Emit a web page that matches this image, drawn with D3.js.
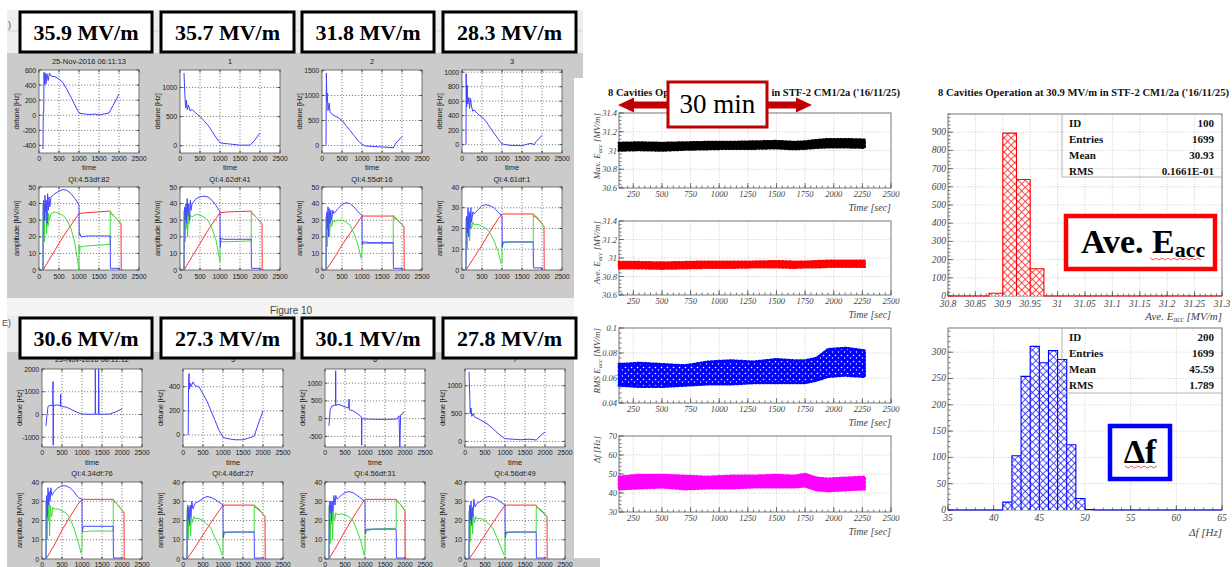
<!DOCTYPE html>
<html>
<head>
<meta charset="utf-8">
<script src="https://cdn.jsdelivr.net/npm/d3@7"></script>
<style>
  body { margin: 0; background: #fff; }
  svg { display: block; }
</style>
</head>
<body>
<svg id="chart" width="1232" height="567"></svg>
<script>
// ---------- data: MATLAB LLRF panels (8 cavities) ----------
const cavityLabels = ['35.9 MV/m', '35.7 MV/m', '31.8 MV/m', '28.3 MV/m', '30.6 MV/m', '27.3 MV/m', '30.1 MV/m', '27.8 MV/m'];
const detuneTitles = ['25-Nov-2016 06:11:13', '1', '2', '3', '25-Nov-2016 06:11:12', '5', '6', '7'];
const ampTitles = ['QI:4.53df:82', 'QI:4.62df:41', 'QI:4.55df:16', 'QI:4.61df:1', 'QI:4.34df:76', 'QI:4.46df:27', 'QI:4.56df:31', 'QI:4.56df:49'];
const timeTicks = [0, 500, 1000, 1500, 2000, 2500];
const detuneDomains = [[-500, 600], [-125, 1300], [-150, 1510], [-115, 1030], [-1430, 2000], [-100, 547], [-800, 1400], [-100, 1300]];
const detuneTicks = [
  [-400, -200, 0, 200, 400, 600], [0, 500, 1000], [0, 500, 1000, 1500], [0, 200, 400, 600, 800, 1000],
  [-1000, 0, 1000, 2000], [0, 200, 400], [-500, 0, 500, 1000], [0, 500, 1000]
];
const ampMax = [50, 50, 50, 40, 40, 40, 40, 40];

const detuneCurves = [
  [[100,-450],[105,-100],[110,50],[118,40],[125,570],[140,400],[160,560],[175,420],[200,550],[230,460],[260,560],[300,520],[400,510],[500,480],[600,430],[700,340],[800,240],[900,130],[1000,30],[1100,20],[1250,10],[1400,15],[1500,5],[1650,20],[1750,30],[1850,130],[2000,280]],
  [[100,1250],[120,900],[140,650],[160,780],[180,620],[210,700],[250,600],[300,620],[400,560],[500,500],[600,430],[700,350],[800,250],[900,140],[1000,50],[1100,40],[1300,25],[1500,10],[1750,10],[1850,80],[2000,220]],
  [[100,0],[110,1450],[120,900],[130,1050],[150,700],[180,850],[200,680],[250,620],[300,600],[400,560],[500,500],[600,400],[700,300],[800,200],[900,100],[1000,20],[1100,-10],[1300,-20],[1500,-30],[1750,-40],[1780,-50],[1850,50],[2000,180]],
  [[100,0],[105,980],[115,520],[130,820],[145,560],[170,650],[190,500],[210,640],[240,520],[270,460],[300,480],[400,420],[500,380],[600,320],[700,240],[800,160],[900,80],[1000,10],[1200,-10],[1500,-15],[1650,10],[1750,20],[1800,-5],[1850,40],[2000,130]],
  [[100,-500],[120,-100],[150,350],[200,400],[270,400],[275,1450],[280,-1350],[285,400],[400,420],[460,380],[467,900],[472,350],[600,330],[700,250],[800,160],[900,80],[1000,20],[1200,10],[1330,10],[1333,2000],[1340,10],[1410,10],[1417,2000],[1425,10],[1700,20],[1850,120],[2000,250]],
  [[130,0],[140,450],[150,510],[160,380],[180,430],[200,400],[250,440],[300,410],[400,400],[500,340],[600,280],[700,200],[800,120],[900,40],[1000,-20],[1100,-30],[1300,-40],[1500,-40],[1700,-20],[1780,-10],[1850,60],[2000,200]],
  [[100,-200],[130,250],[170,350],[250,380],[265,380],[267,1350],[270,380],[350,400],[500,330],[590,300],[600,550],[610,250],[700,220],[800,150],[900,60],[915,0],[917,-750],[920,0],[1000,-10],[1300,-20],[1600,-20],[1800,-10],[1850,80],[1870,-800],[1890,100],[1950,150],[1970,200]],
  [[100,1250],[120,800],[130,500],[150,600],[170,450],[200,500],[250,430],[300,420],[400,380],[500,340],[600,290],[700,230],[800,160],[900,100],[1000,50],[1200,40],[1400,30],[1600,40],[1750,30],[1780,20],[1850,80],[2000,170]]
];

const blueCurves = [
  [[0,0],[100,0],[105,38],[120,42],[135,30],[150,45],[165,35],[180,42],[200,28],[215,46],[235,36],[250,44],[270,38],[300,44],[400,46],[500,47.5],[600,48.5],[700,48],[800,46],[900,43],[980,40],[1000,39],[1005,21],[1020,22],[1050,20],[1200,20.5],[1780,20.5],[1785,1],[2000,1],[2010,0]],
  [[0,0],[100,0],[105,34],[120,38],[135,30],[150,40],[165,28],[180,43],[200,33],[220,40],[240,30],[260,42],[280,36],[300,40],[400,43],[500,44],[600,44.5],[700,44],[800,42],[900,39],[1000,35],[1003,20],[1010,14],[1020,19],[1100,18.5],[1780,18.5],[1785,1],[2000,1],[2010,0]],
  [[0,0],[100,0],[105,30],[120,35],[135,25],[150,38],[165,20],[180,37],[200,28],[220,36],[240,30],[270,36],[300,34],[400,37],[500,39.5],[600,40.5],[700,40],[800,38],[900,35],[1000,33],[1003,18],[1010,15],[1030,17],[1200,16.5],[1780,16.5],[1785,1],[2000,1],[2010,0]],
  [[0,0],[100,0],[105,22],[120,26],[135,18],[150,30],[165,16],[180,28],[200,20],[220,30],[240,23],[270,28],[300,27],[400,29],[500,31],[600,31.5],[700,31],[800,30],[900,28],[1000,26],[1003,14],[1010,11],[1030,13.5],[1200,13.5],[1780,13.5],[1785,1],[2000,1],[2010,0]],
  [[0,0],[100,0],[105,28],[120,33],[135,22],[150,37],[165,28],[180,35],[200,30],[220,37],[250,33],[300,35],[400,37],[500,38],[600,38],[700,37],[800,35],[900,32],[1000,31],[1003,17],[1010,14],[1030,17],[1200,17],[1780,17],[1785,0.5],[2000,0.5]],
  [[0,0],[100,0],[105,22],[120,28],[135,20],[150,27],[165,18],[180,28],[200,22],[220,30],[250,26],[300,29],[400,30],[500,31.5],[600,32.5],[700,32],[800,31],[900,29.5],[1000,28],[1003,14],[1010,11],[1030,14],[1200,14],[1780,14],[1785,0.5],[2000,0.5]],
  [[0,0],[100,0],[105,26],[120,30],[135,24],[150,30],[165,20],[180,30],[200,25],[220,33],[250,28],[270,33],[300,31],[400,33],[500,34.5],[600,35],[700,34.5],[800,33],[900,31.5],[1000,30],[1003,16],[1010,13],[1030,15.5],[1200,15.5],[1780,15.5],[1785,0.5],[2000,0.5]],
  [[0,0],[100,0],[105,22],[120,28],[135,20],[150,30],[165,18],[180,27],[200,22],[220,31],[250,27],[300,29],[400,30],[500,32],[600,32.5],[700,32],[800,31],[900,29.5],[1000,28],[1003,14],[1010,11],[1030,14],[1200,14],[1780,14],[1785,0.5],[2000,0.5]]
];

const greenCurves = [
  [[0,0],[100,0],[105,40],[120,35],[135,17],[145,38],[160,30],[175,40],[190,22],[210,35],[225,26],[240,34],[260,30],[300,34],[400,35],[500,34],[600,33],[700,30],[800,25],[880,18],[950,8],[990,2],[1000,0],[1002,15],[1015,10],[1030,14],[1200,14.5],[1500,15],[1780,15.5],[1782,35],[1900,32],[2050,28]],
  [[0,0],[100,0],[105,36],[120,30],[130,17],[145,37],[160,25],[175,38],[190,20],[210,34],[230,28],[260,33],[300,32],[400,33.5],[500,33],[600,32],[700,30],[800,25],[900,18],[960,10],[1000,5],[1003,20],[1020,17],[1100,17],[1780,17.5],[1782,35],[1900,32],[2050,28]],
  [[0,0],[100,0],[105,32],[120,28],[130,14],[145,34],[160,22],[175,33],[190,20],[210,31],[240,26],[270,30],[300,29],[400,30],[500,30],[600,29],[700,27],[800,22],[900,15],[980,7],[1000,10],[1003,17],[1020,16],[1200,16],[1780,16],[1782,33],[1900,30],[2050,26]],
  [[0,0],[100,0],[105,25],[120,22],[130,10],[145,26],[160,18],[175,25],[190,14],[210,24],[240,20],[270,23],[300,22],[400,22],[500,21],[600,20],[700,18],[800,14],[900,9],[980,3],[1000,4],[1003,14],[1020,13],[1200,13.5],[1780,13.5],[1782,27],[1900,25],[2050,21]],
  [[0,0],[100,0],[105,30],[120,25],[130,10],[145,31],[160,20],[175,30],[190,12],[210,28],[240,22],[270,27],[300,26],[400,26],[500,25],[600,24],[700,21],[800,16],[900,9],[980,3],[1000,6],[1003,15],[1020,14],[1200,14.5],[1780,14.5],[1782,31],[1900,28],[2050,24]],
  [[0,0],[100,0],[105,26],[120,20],[130,10],[145,25],[160,17],[175,24],[190,12],[210,22],[240,19],[270,22],[300,21],[400,21],[500,20],[600,18],[700,16],[800,11],[900,7],[980,2],[1000,3],[1003,14],[1020,13.5],[1200,14],[1780,14],[1782,28],[1900,26],[2050,22]],
  [[0,0],[100,0],[105,28],[120,22],[130,8],[145,28],[160,18],[175,27],[190,10],[210,25],[240,20],[270,24],[300,23],[400,23.5],[500,23],[600,22],[700,20],[800,15],[900,9],[980,2],[1000,4],[1003,15],[1020,14.5],[1200,15.5],[1780,16],[1782,31],[1900,28],[2000,25]],
  [[0,0],[100,0],[105,25],[120,20],[130,9],[145,26],[160,17],[175,25],[190,13],[210,23],[240,19],[270,22],[300,21],[400,21],[500,20],[600,18],[700,16],[800,11],[900,6],[980,2],[1000,3],[1003,14],[1020,13.5],[1200,14],[1780,14],[1782,27],[1900,25],[2050,22]]
];

const redCurves = [
  [[0,0],[100,0],[200,4],[400,12],[600,20],[800,27],[1000,34],[1200,34.5],[1500,35],[1780,35.5],[1800,34],[1900,32],[2050,28],[2055,0],[2100,0]],
  [[0,0],[100,0],[300,8],[500,16],[700,24],[900,31],[1000,34.5],[1200,35],[1780,35.5],[1800,34],[1900,32],[2050,28],[2055,0],[2100,0]],
  [[0,0],[100,0],[300,7],[500,15],[700,22],[900,29],[1000,32.5],[1200,32.5],[1780,32.5],[1800,31.5],[1900,30],[2050,26],[2055,0],[2100,0]],
  [[0,0],[100,0],[300,6],[500,12],[700,18.5],[900,24.5],[1000,27],[1200,27],[1780,27],[1800,26],[1900,24.5],[2050,21],[2055,0],[2100,0]],
  [[0,0],[100,0],[300,7],[500,15],[700,22],[900,28.5],[1000,31],[1200,31],[1780,31],[1800,30],[1900,28],[2050,24],[2055,0],[2100,0]],
  [[0,0],[100,0],[300,6],[500,12.5],[700,19],[900,25],[1000,28],[1200,28],[1780,28],[1800,27],[1900,25.5],[2050,22],[2055,0],[2100,0]],
  [[0,0],[100,0],[300,7],[500,14.5],[700,21.5],[900,28],[1000,31],[1200,31],[1780,31],[1800,30],[1900,28],[2000,25],[2005,0],[2100,0]],
  [[0,0],[100,0],[300,6],[500,12.5],[700,19],[900,25],[1000,28],[1200,28],[1780,28],[1800,27],[1900,25.5],[2050,22],[2055,0],[2100,0]]
];

// ---------- data: ROOT strip charts (band envelopes) ----------
const stripTimes = [125, 300, 500, 700, 900, 1100, 1300, 1500, 1650, 1750, 1850, 1950, 2100, 2270];
const maxEaccLow  = [31.00, 31.005, 31.0, 31.01, 31.015, 31.02, 31.02, 31.025, 31.015, 31.02, 31.03, 31.035, 31.035, 31.03];
const maxEaccHigh = [31.08, 31.085, 31.08, 31.085, 31.09, 31.09, 31.095, 31.1, 31.09, 31.095, 31.11, 31.12, 31.12, 31.115];
const aveEaccLow  = [30.89, 30.89, 30.885, 30.89, 30.895, 30.895, 30.9, 30.9, 30.895, 30.9, 30.9, 30.905, 30.905, 30.905];
const aveEaccHigh = [30.955, 30.955, 30.95, 30.955, 30.96, 30.96, 30.96, 30.965, 30.96, 30.96, 30.965, 30.97, 30.97, 30.97];
const rmsEaccLow  = [0.054, 0.053, 0.053, 0.054, 0.055, 0.055, 0.056, 0.056, 0.056, 0.056, 0.058, 0.061, 0.062, 0.061];
const rmsEaccHigh = [0.071, 0.072, 0.071, 0.070, 0.073, 0.074, 0.073, 0.075, 0.074, 0.074, 0.076, 0.083, 0.084, 0.082];
const detuneLow   = [42, 42.5, 43, 42, 42.5, 42.5, 43, 43, 43, 43.5, 41.5, 41, 41.5, 42];
const detuneHigh  = [48.5, 49.5, 49.5, 49, 48.5, 49, 49, 49.5, 49, 50, 48, 47.5, 48, 48.5];
const stripTimeTicks = [250, 500, 750, 1000, 1250, 1500, 1750, 2000, 2250, 2500];

// ---------- data: histograms ----------
const eaccBinStarts = [30.875, 30.9, 30.925, 30.95];
const eaccCounts = [15, 895, 640, 150];
const eaccTicks = [30.8, 30.85, 30.9, 30.95, 31, 31.05, 31.1, 31.15, 31.2, 31.25, 31.3];
const eaccCountTicks = [0, 100, 200, 300, 400, 500, 600, 700, 800, 900];
const dfBinStarts = [41, 42, 43, 44, 45, 46, 47, 48, 49, 50];
const dfCounts = [15, 103, 254, 311, 280, 303, 286, 124, 22, 1];
const dfTicks = [35, 40, 45, 50, 55, 60, 65];
const dfCountTicks = [0, 50, 100, 150, 200, 250, 300];
const eaccStats = [['ID', '100'], ['Entries', '1699'], ['Mean', '30.93'], ['RMS', '0.1661E-01']];
const dfStats = [['ID', '200'], ['Entries', '1699'], ['Mean', '45.59'], ['RMS', '1.789']];

// ---------- drawing ----------
const SERIF = '"Liberation Serif", "Times New Roman", serif';
const SANS = '"Liberation Sans", Arial, sans-serif';
const GRAY = '#cbcbcb';

const svg = d3.select('#chart');
const defs = svg.append('defs');

// MATLAB windows background
svg.append('rect').attr('x', 7).attr('y', 10).attr('width', 576).attr('height', 43).attr('fill', '#eeeeee');
svg.append('line').attr('x1', 7).attr('x2', 583).attr('y1', 31).attr('y2', 31).attr('stroke', '#d6d6d6');
svg.append('rect').attr('x', 7).attr('y', 53).attr('width', 576).attr('height', 245).attr('fill', GRAY);
svg.append('rect').attr('x', 7).attr('y', 298).attr('width', 576).attr('height', 18).attr('fill', '#f3f3f3');
svg.append('rect').attr('x', 7).attr('y', 316).attr('width', 576).attr('height', 36).attr('fill', '#ececec');
svg.append('rect').attr('x', 7).attr('y', 352).attr('width', 576).attr('height', 215).attr('fill', GRAY);
svg.append('text').attr('x', 291).attr('y', 314).attr('text-anchor', 'middle')
  .attr('font-family', SANS).attr('font-size', 10).attr('fill', '#444').text('Figure 10');
svg.append('text').attr('x', 8).attr('y', 28).attr('font-family', SANS).attr('font-size', 9).attr('fill', '#555').text(')');
svg.append('text').attr('x', 2).attr('y', 326).attr('font-family', SANS).attr('font-size', 9).attr('fill', '#555').text('E)');
// ROOT canvas
svg.append('rect').attr('x', 574).attr('y', 78).attr('width', 40).attr('height', 480).attr('fill', '#fff');
svg.append('rect').attr('x', 574).attr('y', 558).attr('width', 26).attr('height', 9).attr('fill', GRAY);

// ---- MATLAB panels ----
const panelX = [[39, 139], [180, 280], [322, 422], [462, 562], [42, 142], [183, 283], [325, 425], [465, 565]];
const rows = [
  { det: [70, 153], amp: [187, 270], detTitle: 64, detTick: 161, timeLab: 170, ampTitle: 182, ampTick: 279 },
  { det: [369, 447], amp: [482, 559], detTitle: 362, detTick: 455, timeLab: 465, ampTitle: 476, ampTick: 567 }
];

function matlabAxes(g, id, x, y, yTicks, top, bot, tickY, yLabel) {
  const [x0, x1] = x.range();
  g.append('rect').attr('x', x0).attr('y', top).attr('width', x1 - x0).attr('height', bot - top).attr('fill', '#fff');
  defs.append('clipPath').attr('id', id).append('rect')
    .attr('x', x0).attr('y', top).attr('width', x1 - x0).attr('height', bot - top);
  const grid = g.append('g').attr('stroke', '#333').attr('stroke-width', 0.6).attr('stroke-dasharray', '1.2,1.8');
  timeTicks.slice(1, -1).forEach(t => grid.append('line').attr('x1', x(t)).attr('x2', x(t)).attr('y1', top).attr('y2', bot));
  yTicks.forEach(v => { if (y(v) > top + 1 && y(v) < bot - 1) grid.append('line').attr('x1', x0).attr('x2', x1).attr('y1', y(v)).attr('y2', y(v)); });
  const tk = g.append('g').attr('stroke', '#000').attr('stroke-width', 0.7);
  timeTicks.forEach(t => {
    tk.append('line').attr('x1', x(t)).attr('x2', x(t)).attr('y1', bot).attr('y2', bot - 2.5);
    tk.append('line').attr('x1', x(t)).attr('x2', x(t)).attr('y1', top).attr('y2', top + 2.5);
  });
  yTicks.forEach(v => {
    tk.append('line').attr('x1', x0).attr('x2', x0 + 2.5).attr('y1', y(v)).attr('y2', y(v));
    tk.append('line').attr('x1', x1).attr('x2', x1 - 2.5).attr('y1', y(v)).attr('y2', y(v));
  });
  g.append('rect').attr('x', x0).attr('y', top).attr('width', x1 - x0).attr('height', bot - top)
    .attr('fill', 'none').attr('stroke', '#555').attr('stroke-width', 0.8);
  const lab = g.append('g').attr('font-family', SANS).attr('font-size', 7).attr('fill', '#222')
    .attr('letter-spacing', -0.2);
  timeTicks.forEach(t => lab.append('text').attr('x', x(t)).attr('y', tickY).attr('text-anchor', 'middle').text(t));
  yTicks.forEach(v => lab.append('text').attr('x', x0 - 3).attr('y', y(v) + 2.5).attr('text-anchor', 'end').text(v));
  lab.append('text').attr('transform', `translate(${x0 - 20},${(top + bot) / 2}) rotate(-90)`)
    .attr('text-anchor', 'middle').attr('font-size', 7.5).text(yLabel);
}

function drawSeries(g, id, x, y, data, color) {
  g.append('path')
    .attr('d', d3.line().x(d => x(d[0])).y(d => y(d[1]))(data))
    .attr('fill', 'none').attr('stroke', color).attr('stroke-width', 1)
    .attr('stroke-linejoin', 'round').attr('clip-path', `url(#${id})`);
}

cavityLabels.forEach((lbl, i) => {
  const row = rows[i < 4 ? 0 : 1];
  const g = svg.append('g');
  const x = d3.scaleLinear().domain([0, 2500]).range(panelX[i]);
  const yd = d3.scaleLinear().domain(detuneDomains[i]).range([row.det[1], row.det[0]]);
  const ya = d3.scaleLinear().domain([0, ampMax[i]]).range([row.amp[1], row.amp[0]]);
  const cx = (panelX[i][0] + panelX[i][1]) / 2;

  matlabAxes(g, `cd${i}`, x, yd, detuneTicks[i], row.det[0], row.det[1], row.detTick, 'detune [Hz]');
  drawSeries(g, `cd${i}`, x, yd, detuneCurves[i], '#4040ff');
  g.append('text').attr('x', cx).attr('y', row.detTitle).attr('text-anchor', 'middle')
    .attr('font-family', SANS).attr('font-size', 7.5).attr('fill', '#222').text(detuneTitles[i]);
  g.append('text').attr('x', cx).attr('y', row.timeLab).attr('text-anchor', 'middle')
    .attr('font-family', SANS).attr('font-size', 7.5).attr('fill', '#222').text('time');

  const ampTicks = d3.range(0, ampMax[i] + 1, 10);
  matlabAxes(g, `ca${i}`, x, ya, ampTicks, row.amp[0], row.amp[1], row.ampTick, 'amplitude [MV/m]');
  drawSeries(g, `ca${i}`, x, ya, redCurves[i], '#ff3030');
  drawSeries(g, `ca${i}`, x, ya, greenCurves[i], '#3ddc3d');
  drawSeries(g, `ca${i}`, x, ya, blueCurves[i], '#4646ff');
  g.append('text').attr('x', cx).attr('y', row.ampTitle).attr('text-anchor', 'middle')
    .attr('font-family', SANS).attr('font-size', 7.5).attr('fill', '#222').text(ampTitles[i]);
});

// cavity gradient boxes
const boxX = [[20, 152], [161, 294], [302, 434], [443, 576]];
cavityLabels.forEach((lbl, i) => {
  const [bx0, bx1] = boxX[i % 4];
  const by = i < 4 ? 12 : 318;
  svg.append('rect').attr('x', bx0).attr('y', by).attr('width', bx1 - bx0).attr('height', 40)
    .attr('fill', '#fff').attr('stroke', '#000').attr('stroke-width', 3);
  svg.append('text').attr('x', (bx0 + bx1) / 2).attr('y', by + 27.5).attr('text-anchor', 'middle')
    .attr('font-family', SERIF).attr('font-weight', 'bold').attr('font-size', 22).attr('fill', '#000').text(lbl);
});

// ---- ROOT frames ----
function rootFrame(g, x, y, xMajor, xMinor, yMajor, yMinor, tickFmt, xLabY, xLabSize) {
  const [x0, x1] = x.range();
  const [bot, top] = y.range();
  const grid = g.append('g').attr('stroke', '#bdbdbd').attr('stroke-width', 0.7).attr('stroke-dasharray', '1,1.5');
  xMajor.forEach(t => { if (x(t) > x0 + 1 && x(t) < x1 - 1) grid.append('line').attr('x1', x(t)).attr('x2', x(t)).attr('y1', top).attr('y2', bot); });
  yMajor.forEach(v => { if (y(v) > top + 1 && y(v) < bot - 1) grid.append('line').attr('x1', x0).attr('x2', x1).attr('y1', y(v)).attr('y2', y(v)); });
  const tk = g.append('g').attr('stroke', '#555').attr('stroke-width', 0.8);
  xMinor.forEach(t => tk.append('line').attr('x1', x(t)).attr('x2', x(t)).attr('y1', bot).attr('y2', bot - 2.5));
  xMajor.forEach(t => tk.append('line').attr('x1', x(t)).attr('x2', x(t)).attr('y1', bot).attr('y2', bot - 5));
  yMinor.forEach(v => tk.append('line').attr('x1', x0).attr('x2', x0 + 2.5).attr('y1', y(v)).attr('y2', y(v)));
  yMajor.forEach(v => tk.append('line').attr('x1', x0).attr('x2', x0 + 5).attr('y1', y(v)).attr('y2', y(v)));
  g.append('rect').attr('x', x0).attr('y', top).attr('width', x1 - x0).attr('height', bot - top)
    .attr('fill', 'none').attr('stroke', '#666').attr('stroke-width', 0.9);
  const lab = g.append('g').attr('font-family', SERIF).attr('font-style', 'italic')
    .attr('font-size', xLabSize).attr('fill', '#444');
  xMajor.forEach(t => lab.append('text').attr('x', x(t)).attr('y', xLabY).attr('text-anchor', 'middle').text(tickFmt(t)));
  yMajor.forEach(v => lab.append('text').attr('x', x0 - 2).attr('y', y(v) + 3).attr('text-anchor', 'end').text(tickFmt(v)));
}

const fmt = d3.format('~g');
const rootX = d3.scaleLinear().domain([125, 2500]).range([619, 891]);

// speckle pattern for the sparse RMS scatter
const speck = defs.append('pattern').attr('id', 'speckBlue').attr('patternUnits', 'userSpaceOnUse')
  .attr('width', 6).attr('height', 6);
speck.append('rect').attr('width', 6).attr('height', 6).attr('fill', '#0000ff');
speck.append('circle').attr('cx', 1.5).attr('cy', 1.5).attr('r', 0.8).attr('fill', '#fff');
speck.append('circle').attr('cx', 4.5).attr('cy', 4).attr('r', 0.7).attr('fill', '#fff');

const strips = [
  { low: maxEaccLow, high: maxEaccHigh, domain: [30.6, 31.4], ticks: [30.6, 30.8, 31, 31.2, 31.4], minorStep: 0.04,
    top: 113, bot: 188, color: '#000', fill: '#000', title: ['Max. E', 'acc', ' [MV/m]'] },
  { low: aveEaccLow, high: aveEaccHigh, domain: [30.6, 31.4], ticks: [30.6, 30.8, 31, 31.2, 31.4], minorStep: 0.04,
    top: 221, bot: 295, color: '#ff0000', fill: '#ff0000', title: ['Ave. E', 'acc', ' [MV/m]'] },
  { low: rmsEaccLow, high: rmsEaccHigh, domain: [0.04, 0.1], ticks: [0.04, 0.06, 0.08, 0.1], minorStep: 0.004,
    top: 328, bot: 403, color: '#0000ff', fill: 'url(#speckBlue)', title: ['RMS E', 'acc', ' [MV/m]'] },
  { low: detuneLow, high: detuneHigh, domain: [30, 70], ticks: [30, 40, 50, 60, 70], minorStep: 2,
    top: 436, bot: 512, color: '#ff00ff', fill: '#ff00ff', title: ['\u0394f [Hz]'] }
];

strips.forEach(s => {
  const g = svg.append('g');
  const y = d3.scaleLinear().domain(s.domain).range([s.bot, s.top]);
  const minorX = d3.range(150, 2501, 50);
  const minorY = d3.range(s.domain[0], s.domain[1] + s.minorStep / 2, s.minorStep);
  rootFrame(g, rootX, y, stripTimeTicks, minorX, s.ticks, minorY, fmt, s.bot + 9, 8.5);
  const pts = stripTimes.map((t, i) => ({ t, lo: s.low[i], hi: s.high[i] }));
  const area = d3.area().x(d => rootX(d.t)).y0(d => y(d.lo)).y1(d => y(d.hi));
  g.append('path').attr('d', area(pts)).attr('fill', s.fill)
    .attr('stroke', s.color).attr('stroke-width', 2.6).attr('stroke-dasharray', '1.5,2.2')
    .attr('stroke-linecap', 'round');
  const tl = g.append('text').attr('transform', `translate(600,${s.top}) rotate(-90)`)
    .attr('text-anchor', 'end').attr('font-family', SERIF).attr('font-style', 'italic')
    .attr('font-size', 9).attr('fill', '#444');
  tl.append('tspan').text(s.title[0]);
  if (s.title.length > 1) {
    tl.append('tspan').attr('font-size', 6.5).attr('dy', 2).text(s.title[1]);
    tl.append('tspan').attr('dy', -2).text(s.title[2]);
  }
  g.append('text').attr('x', 891).attr('y', s.bot + 23).attr('text-anchor', 'end')
    .attr('font-family', SERIF).attr('font-style', 'italic').attr('font-size', 10).attr('fill', '#444')
    .text('Time [sec]');
});

// titles: the strip-chart title is partly hidden behind the "30 min" box, so only the visible parts are set
const titleStyle = t => t.attr('font-family', SERIF).attr('font-weight', 'bold').attr('font-size', 10.6).attr('fill', '#111');
titleStyle(svg.append('text').attr('x', 608).attr('y', 96)).text('8 Cavities Op');
titleStyle(svg.append('text').attr('x', 900).attr('y', 96).attr('text-anchor', 'end')).text("in STF-2 CM1/2a ('16/11/25)");
titleStyle(svg.append('text').attr('x', 938).attr('y', 96).attr('textLength', 291))
  .text("8 Cavities Operation at 30.9 MV/m in STF-2 CM1/2a ('16/11/25)");

// 30 min annotation
const arrowRed = '#c00000';
svg.append('polygon').attr('fill', arrowRed)
  .attr('points', '618,105 634,97.5 634,101.5 672,101.5 672,108.5 634,108.5 634,112.5');
svg.append('polygon').attr('fill', arrowRed)
  .attr('points', '812,105 796,97.5 796,101.5 762,101.5 762,108.5 796,108.5 796,112.5');
svg.append('rect').attr('x', 668).attr('y', 82).attr('width', 99).attr('height', 45)
  .attr('fill', '#fff').attr('stroke', arrowRed).attr('stroke-width', 3);
svg.append('text').attr('x', 717.5).attr('y', 112.5).attr('text-anchor', 'middle')
  .attr('font-family', SERIF).attr('font-size', 27).attr('fill', '#000').text('30 min');

// ---- histograms ----
function hatch(id, color) {
  const p = defs.append('pattern').attr('id', id).attr('patternUnits', 'userSpaceOnUse')
    .attr('width', 5).attr('height', 5).attr('patternTransform', 'rotate(45)');
  p.append('rect').attr('width', 5).attr('height', 5).attr('fill', '#fff');
  p.append('line').attr('x1', 0).attr('x2', 5).attr('y1', 2.5).attr('y2', 2.5).attr('stroke', color).attr('stroke-width', 0.8);
  p.append('line').attr('x1', 2.5).attr('x2', 2.5).attr('y1', 0).attr('y2', 5).attr('stroke', color).attr('stroke-width', 0.8);
}
hatch('hatchRed', '#ff2020');
hatch('hatchBlue', '#2020ff');

function drawHist(o) {
  const g = svg.append('g');
  const x = d3.scaleLinear().domain(o.xDomain).range([948, 1222]);
  const y = d3.scaleLinear().domain([0, o.yMax]).range([o.bot, o.top]);
  rootFrame(g, x, y, o.xTicks, o.xMinor, o.yTicks, o.yMinor, fmt, o.bot + 11, 9.5);
  o.starts.forEach((s, i) => {
    g.append('rect').attr('x', x(s)).attr('y', y(o.counts[i]))
      .attr('width', x(s + o.binWidth) - x(s)).attr('height', y(0) - y(o.counts[i]))
      .attr('fill', `url(#${o.pattern})`);
  });
  const step = [[o.xDomain[0], 0]];
  o.starts.forEach((s, i) => { step.push([s, 0], [s, o.counts[i]], [s + o.binWidth, o.counts[i]], [s + o.binWidth, 0]); });
  step.push([o.xDomain[1], 0]);
  g.append('path').attr('d', d3.line().x(d => x(d[0])).y(d => y(d[1]))(step))
    .attr('fill', 'none').attr('stroke', o.color).attr('stroke-width', 1.1);
  // stats box
  g.append('path').attr('d', `M1062,${o.top}V${o.statBot}H1222`).attr('fill', 'none')
    .attr('stroke', '#aaa').attr('stroke-width', 0.9);
  o.stats.forEach((r, i) => {
    const ty = o.statRow0 + i * 16;
    g.append('text').attr('x', 1069).attr('y', ty).attr('font-family', SERIF).attr('font-weight', 'bold')
      .attr('font-size', 11).attr('fill', '#111').text(r[0]);
    g.append('text').attr('x', 1214).attr('y', ty).attr('text-anchor', 'end').attr('font-family', SERIF)
      .attr('font-weight', 'bold').attr('font-size', 11).attr('fill', '#111').text(r[1]);
  });
  return g;
}

drawHist({
  xDomain: [30.8, 31.3], yMax: 1000, top: 114, bot: 296,
  xTicks: eaccTicks, xMinor: d3.range(30.8, 31.3005, 0.01), yTicks: eaccCountTicks, yMinor: d3.range(0, 1001, 20),
  starts: eaccBinStarts, counts: eaccCounts, binWidth: 0.025, pattern: 'hatchRed', color: '#ff0000',
  stats: eaccStats, statBot: 177, statRow0: 127
});
drawHist({
  xDomain: [35, 65], yMax: 346, top: 328, bot: 510,
  xTicks: dfTicks, xMinor: d3.range(35, 65.5, 1), yTicks: dfCountTicks, yMinor: d3.range(0, 341, 10),
  starts: dfBinStarts, counts: dfCounts, binWidth: 1, pattern: 'hatchBlue', color: '#0000ff',
  stats: dfStats, statBot: 393, statRow0: 340.5
});

// hist axis titles
const t1 = svg.append('text').attr('x', 1222).attr('y', 320).attr('text-anchor', 'end')
  .attr('font-family', SERIF).attr('font-style', 'italic').attr('font-size', 11).attr('fill', '#444');
t1.append('tspan').text('Ave. E');
t1.append('tspan').attr('font-size', 7.5).attr('dy', 2).text('acc');
t1.append('tspan').attr('dy', -2).text(' [MV/m]');
svg.append('text').attr('x', 1222).attr('y', 536).attr('text-anchor', 'end')
  .attr('font-family', SERIF).attr('font-style', 'italic').attr('font-size', 11).attr('fill', '#444')
  .text('\u0394f [Hz]');

// highlighted boxes
svg.append('rect').attr('x', 1066).attr('y', 216).attr('width', 149).attr('height', 53)
  .attr('fill', '#fff').attr('stroke', '#ff0000').attr('stroke-width', 4.5);
const big = svg.append('text').attr('x', 1081).attr('y', 253).attr('font-family', SERIF)
  .attr('font-weight', 'bold').attr('font-size', 34).attr('fill', '#000');
big.append('tspan').text('Ave. E');
big.append('tspan').attr('font-size', 22).attr('dy', 4).text('acc');
svg.append('path').attr('d', 'M1150,258' + d3.range(1, 18).map(k => `L${1150 + k * 3},${k % 2 ? 260 : 258}`).join(''))
  .attr('fill', 'none').attr('stroke', '#e03030').attr('stroke-width', 0.8);

svg.append('rect').attr('x', 1110).attr('y', 426).attr('width', 60).attr('height', 53)
  .attr('fill', '#fff').attr('stroke', '#0000ff').attr('stroke-width', 4.5);
svg.append('text').attr('x', 1140).attr('y', 463).attr('text-anchor', 'middle').attr('font-family', SERIF)
  .attr('font-weight', 'bold').attr('font-size', 34).attr('fill', '#000').text('\u0394f');
svg.append('path').attr('d', 'M1125,466' + d3.range(1, 11).map(k => `L${1125 + k * 3.2},${k % 2 ? 468 : 466}`).join(''))
  .attr('fill', 'none').attr('stroke', '#e03030').attr('stroke-width', 0.8);
</script>
</body>
</html>
